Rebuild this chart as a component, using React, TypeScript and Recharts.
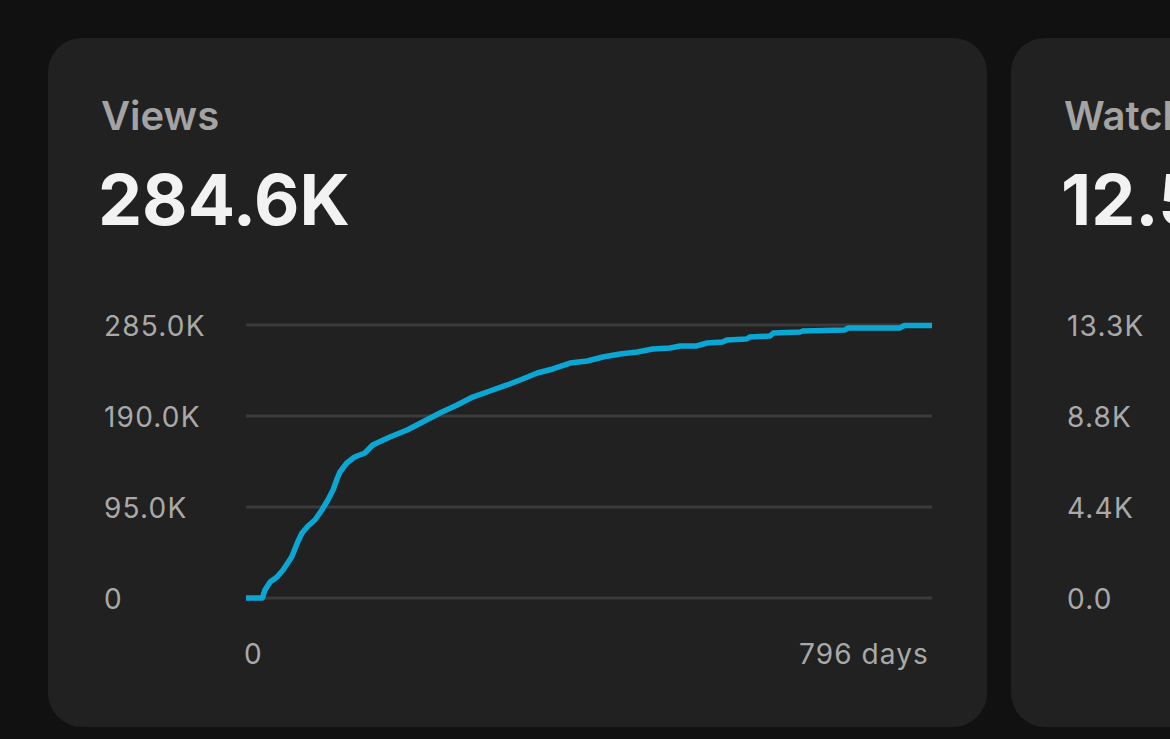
import React from "react";
import { LineChart, Line, XAxis, YAxis, CartesianGrid } from "recharts";

const days = [0, 19, 22, 28, 36, 43, 53, 60, 65, 72, 80, 88, 95, 101, 106, 109, 117, 126, 138, 147, 167, 187, 205, 225, 245, 263, 283, 303, 321, 338, 356, 376, 396, 414, 434, 454, 472, 492, 504, 523, 535, 553, 558, 581, 585, 608, 612, 643, 646, 695, 699, 759, 764, 796];
const views = [0, 0, 8400, 16700, 21900, 29200, 42800, 58500, 67900, 75200, 81400, 91900, 102300, 112700, 125300, 131500, 140900, 147200, 151400, 159700, 168100, 175400, 183700, 193100, 201500, 209800, 216100, 222400, 228600, 234900, 239100, 245300, 247400, 251600, 254700, 256800, 260000, 261000, 263100, 263100, 266200, 267300, 269300, 270400, 272500, 273500, 276700, 277700, 278700, 279800, 281900, 281900, 284600, 284600];

const viewTicks = [0, 95000, 190000, 285000];
const viewTickLabels = ["0", "95.0K", "190.0K", "285.0K"];
const watchTicks = [0, 4417, 8833, 13250];
const watchTickLabels = ["0.0", "4.4K", "8.8K", "13.3K"];
const dayTicks = [0, 796];
const dayTickLabels = ["0", "796 days"];

const cards = [
  { title: "Views", total: "284.6K" },
  { title: "Watch time", total: "12.5K" },
];

const viewsData = days.map((d, i) => ({ day: d, views: views[i] }));
// watch-time series lies outside the visible window; its domain comes from the tick labels
const watchData = dayTicks.map((d) => ({ day: d }));

const FONT = "Inter, 'Noto Sans', sans-serif";
const LABEL = "#a9a9a9";

const makeYTick = (ticks: number[], labels: string[]) => (props: any) => {
  const { y, payload } = props;
  const idx = ticks.indexOf(payload.value);
  return (
    <text x={56} y={y} dy={11} textAnchor="start" fill={LABEL} fontSize={28} letterSpacing={1.2} fontFamily={FONT}>
      {idx >= 0 ? labels[idx] : ""}
    </text>
  );
};

const XTick = (props: any) => {
  const { x, payload } = props;
  const idx = dayTicks.indexOf(payload.value);
  const last = idx === dayTicks.length - 1;
  return (
    <text x={last ? x - 3 : x - 2} y={364} textAnchor={last ? "end" : "start"} fill={LABEL} fontSize={28} letterSpacing={1.1} fontFamily={FONT}>
      {dayTickLabels[idx]}
    </text>
  );
};

function Card({ left, idx, children }: { left: number; idx: number; children?: React.ReactNode }) {
  const c = cards[idx];
  return (
    <div style={{ position: "absolute", left, top: 38, width: 939, height: 689, background: "#212121", borderRadius: 34, overflow: "hidden" }}>
      <div style={{ position: "absolute", left: 53, top: 58, fontFamily: FONT, fontSize: 40, fontWeight: 600, color: "#a3a3a3", lineHeight: 1, whiteSpace: "nowrap" }}>
        {c.title}
      </div>
      <div style={{ position: "absolute", left: 50, top: 127, fontFamily: FONT, fontSize: 70, fontWeight: 700, color: "#f2f2f2", lineHeight: 1, whiteSpace: "nowrap" }}>
        {c.total}
      </div>
      <div style={{ position: "absolute", left: 0, top: 262 }}>{children}</div>
    </div>
  );
}

export default function App() {
  return (
    <div style={{ position: "fixed", left: 0, top: 0, width: 1170, height: 739, background: "#111111", overflow: "hidden" }}>
      <Card left={48} idx={0}>
        <LineChart width={939} height={390} data={viewsData} margin={{ top: 25, right: 55, bottom: 32, left: 48 }}>
          <CartesianGrid horizontal vertical={false} stroke="#3b3b3b" strokeWidth={3} />
          <XAxis dataKey="day" type="number" domain={[0, 796]} ticks={dayTicks} axisLine={false} tickLine={false} height={60} tick={<XTick />} interval={0} />
          <YAxis type="number" domain={[0, 285000]} ticks={viewTicks} axisLine={false} tickLine={false} width={150} tick={makeYTick(viewTicks, viewTickLabels)} interval={0} />
          <Line dataKey="views" type="linear" stroke="#0aa7d5" strokeWidth={5.5} dot={false} activeDot={false} isAnimationActive={false} strokeLinejoin="round" strokeLinecap="butt" />
        </LineChart>
      </Card>
      <Card left={1011} idx={1}>
        <LineChart width={939} height={390} data={watchData} margin={{ top: 25, right: 55, bottom: 32, left: 48 }}>
          <CartesianGrid horizontal vertical={false} stroke="#3b3b3b" strokeWidth={3} />
          <XAxis dataKey="day" type="number" domain={[0, 796]} ticks={dayTicks} axisLine={false} tickLine={false} height={60} tick={false} interval={0} />
          <YAxis type="number" domain={[0, 13250]} ticks={watchTicks} axisLine={false} tickLine={false} width={150} tick={makeYTick(watchTicks, watchTickLabels)} interval={0} allowDataOverflow />
          <Line dataKey="watchHours" type="linear" stroke="#0aa7d5" strokeWidth={5.5} dot={false} activeDot={false} isAnimationActive={false} />
        </LineChart>
      </Card>
    </div>
  );
}
